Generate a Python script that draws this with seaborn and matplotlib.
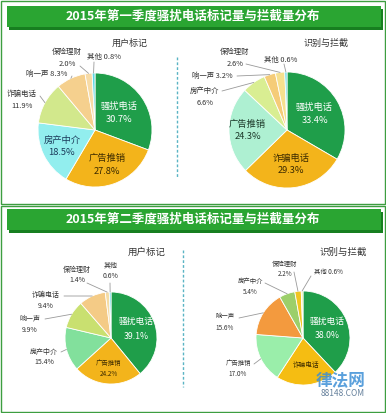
import numpy as np
import matplotlib
matplotlib.use('Agg')
import matplotlib.pyplot as plt
import matplotlib.patches as mpatches
import seaborn as sns

sns.set_theme(style="white")
plt.rcParams['font.family'] = ['Noto Sans CJK SC', 'DejaVu Sans']

W, H = 386, 413

# ---- data (percent, clockwise from 12 o'clock) ----
q1_title = '2015年第一季度骚扰电话标记量与拦截量分布'
q2_title = '2015年第二季度骚扰电话标记量与拦截量分布'

q1_user_labels = ['骚扰电话', '广告推销', '房产中介', '诈骗电话', '响一声', '保险理财', '其他']
q1_user_values = [30.7, 27.8, 18.5, 11.9, 8.3, 2.0, 0.8]

q1_block_labels = ['骚扰电话', '诈骗电话', '广告推销', '房产中介', '响一声', '保险理财', '其他']
q1_block_values = [33.4, 29.3, 24.3, 6.6, 3.2, 2.6, 0.6]

q2_user_labels = ['骚扰电话', '广告推销', '房产中介', '响一声', '诈骗电话', '保险理财', '其他']
q2_user_values = [39.1, 24.2, 15.4, 9.9, 9.4, 1.4, 0.6]

q2_block_labels = ['骚扰电话', '诈骗电话', '广告推销', '响一声', '房产中介', '保险理财', '其他']
q2_block_values = [38.0, 21.2, 17.0, 15.6, 5.4, 2.2, 0.6]

# ---- colours ----
GREEN = '#1f9e4a'
GOLD = '#f3b41b'
q1_user_colors = [GREEN, GOLD, '#92eeee', '#d2e88c', '#f5d08e', '#f7dba6', '#62d8e4']
q1_block_colors = [GREEN, GOLD, '#aef0d2', '#d9ee92', '#f5cc78', '#f6e08e', '#62d8e4']
q2_user_colors = [GREEN, GOLD, '#82e09c', '#c9e070', '#f4cb86', '#f5dca4', '#62d8e4']
q2_block_colors = [GREEN, '#f5bd12', '#9aeeaa', '#f39a3e', '#9ccf6a', '#f1c521', '#e9f0a2']

# ---- label layout (image pixels, y downward) ----
# inside: label -> (text colour, font size, radial fraction, show value)
q1_user_inside = {'骚扰电话': ('white', 6.7, 0.52, True),
                  '广告推销': ('#3b2a00', 6.7, 0.65, True),
                  '房产中介': ('#1b3a5a', 6.7, 0.65, True)}
q1_block_inside = {'骚扰电话': ('white', 6.7, 0.55, True),
                   '诈骗电话': ('#3b2a00', 6.7, 0.6, True),
                   '广告推销': ('#1d3a2a', 6.7, 0.68, True)}
q2_user_inside = {'骚扰电话': ('white', 6.3, 0.58, True),
                  '广告推销': ('#3b2a00', 4.6, 0.66, True)}
q2_block_inside = {'骚扰电话': ('white', 6.3, 0.55, True),
                   '诈骗电话': ('#3b2a00', 4.8, 0.7, False)}

# outside: label -> (text x, text y, leader start x, leader start y, two lines)
q1_user_outside = {'诈骗电话': (22, 100, 40, 96, True),
                   '响一声': (47, 74, 72, 76, False),
                   '保险理财': (67, 58, 80, 66, True),
                   '其他': (104, 57, 94, 62, False)}
q1_block_outside = {'房产中介': (205, 97, 222, 91, True),
                    '响一声': (212, 76, 237, 76, False),
                    '保险理财': (235, 58, 246, 64, True),
                    '其他': (281, 60, 284, 64, False)}
q2_user_outside = {'房产中介': (44, 357, 61, 352, True),
                   '响一声': (30, 324, 45, 319, True),
                   '诈骗电话': (46, 300, 64, 296, True),
                   '保险理财': (77, 275, 87, 283, True),
                   '其他': (111, 271, 110, 283, True)}
q2_block_outside = {'广告推销': (238, 368, 254, 364, True),
                    '响一声': (225, 322, 239, 318, True),
                    '房产中介': (250, 286, 265, 283, True),
                    '保险理财': (285, 269, 294, 272, True),
                    '其他': (328, 272, 311, 276, False)}

fig = plt.figure(figsize=(W / 100, H / 100), dpi=100)
ax = fig.add_axes([0, 0, 1, 1])


def Y(y):
    return H - y


def draw_pie(values, labels, colors, center, radius, inside, outside,
             out_size, gap_in, gap_out):
    cx, cy = center
    wedges, _ = ax.pie(values, colors=colors, startangle=90, counterclock=False,
                       center=(cx, Y(cy)), radius=radius,
                       wedgeprops=dict(edgecolor='white', linewidth=0.6))
    for w, lab, val in zip(wedges, labels, values):
        mid = np.deg2rad((w.theta1 + w.theta2) / 2)
        pct = f'{val:.1f}%'
        if lab in inside:
            color, size, frac, show = inside[lab]
            x = cx + frac * radius * np.cos(mid)
            y = Y(cy) + frac * radius * np.sin(mid)
            g = gap_in * size / 6.3
            ax.text(x, y + g / 2, lab, color=color, fontsize=size,
                    ha='center', va='center')
            if show:
                ax.text(x, y - g / 2, pct, color=color, fontsize=size,
                        ha='center', va='center')
        elif lab in outside:
            tx, ty, lx, ly, two = outside[lab]
            ex = cx + radius * np.cos(mid)
            ey = Y(cy) + radius * np.sin(mid)
            ax.plot([lx, ex], [Y(ly), ey], color='#9a9a9a', lw=0.6)
            if two:
                ax.text(tx, Y(ty) + gap_out / 2, lab, fontsize=out_size,
                        color='#333333', ha='center', va='center')
                ax.text(tx, Y(ty) - gap_out / 2, pct, fontsize=out_size,
                        color='#333333', ha='center', va='center')
            else:
                ax.text(tx, Y(ty), f'{lab} {pct}', fontsize=out_size,
                        color='#333333', ha='center', va='center')


def draw_panel(top, bottom, banner_top, title):
    ax.add_patch(mpatches.Rectangle((1, Y(bottom)), W - 2, bottom - top,
                                    fill=False, edgecolor='#3d9e40', lw=1))
    ax.add_patch(mpatches.Rectangle((9, Y(banner_top + 24)), 374, 21,
                                    color='#177f20', lw=0))
    ax.add_patch(mpatches.Rectangle((7, Y(banner_top + 21)), 374, 21,
                                    color='#2aa532', lw=0))
    ax.text(193, Y(banner_top + 10.5), title, color='white', fontsize=9,
            fontweight='bold', ha='center', va='center')


draw_panel(1, 204, 6, q1_title)
draw_panel(206, 412, 209, q2_title)

# subtitles
ax.text(130, Y(43), '用户标记', fontsize=6.5, color='#333333', ha='center', va='center')
ax.text(326, Y(43), '识别与拦截', fontsize=6.5, color='#333333', ha='center', va='center')
ax.text(147, Y(252), '用户标记', fontsize=6.8, color='#333333', ha='center', va='center')
ax.text(343, Y(252), '识别与拦截', fontsize=6.8, color='#333333', ha='center', va='center')

# dashed dividers
ax.plot([177, 177], [Y(57), Y(177)], color='#5ab4c4', lw=1, ls=(0, (2, 1.5)))
ax.plot([183, 183], [Y(250), Y(387)], color='#5ab4c4', lw=1, ls=(0, (2, 1.5)))

draw_pie(q1_user_values, q1_user_labels, q1_user_colors, (95, 130), 57,
         q1_user_inside, q1_user_outside, 5.4, 12, 13)
draw_pie(q1_block_values, q1_block_labels, q1_block_colors, (287, 130), 58,
         q1_block_inside, q1_block_outside, 5.3, 12, 12)
draw_pie(q2_user_values, q2_user_labels, q2_user_colors, (111, 338), 46,
         q2_user_inside, q2_user_outside, 5.0, 15, 11)
draw_pie(q2_block_values, q2_block_labels, q2_block_colors, (303, 338), 47,
         q2_block_inside, q2_block_outside, 4.6, 15, 11)

# watermark
ax.text(341, Y(381), '律法网', fontsize=12, fontweight='bold', color='#3d8fd6',
        alpha=0.85, ha='center', va='center')
ax.text(343, Y(394), '88148.COM', fontsize=6, color='#4a6a8a', alpha=0.85,
        ha='center', va='center')

ax.set_xlim(0, W)
ax.set_ylim(0, H)
ax.set_aspect('equal', adjustable='box')
ax.axis('off')

fig.savefig('out.png', dpi=100)
